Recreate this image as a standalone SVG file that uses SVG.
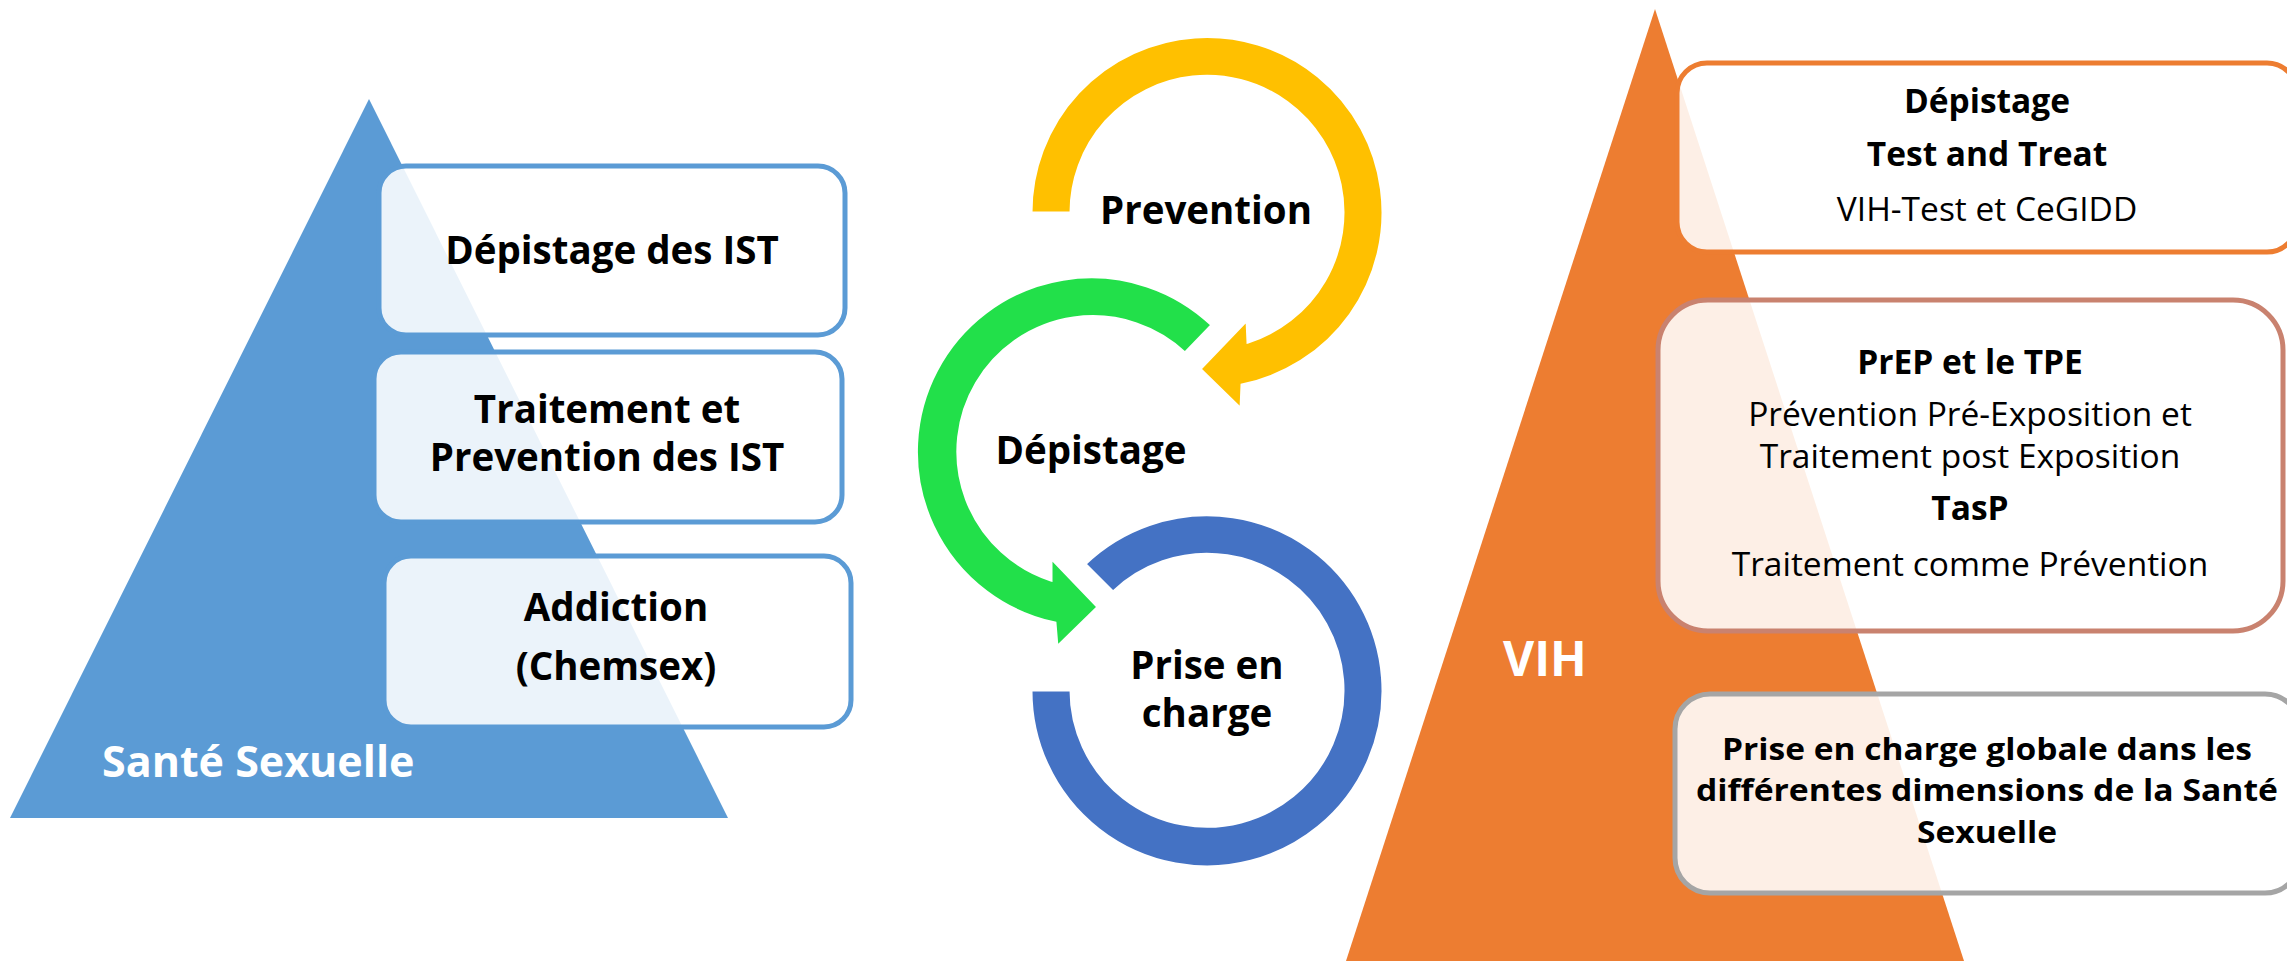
<svg xmlns="http://www.w3.org/2000/svg" width="2287" height="961" viewBox="0 0 2287 961">
<style>
.b{font-family:"Open Sans","Noto Sans","DejaVu Sans",sans-serif;font-weight:700;fill:#000;text-anchor:middle}
.r{font-family:"Open Sans","Noto Sans","DejaVu Sans",sans-serif;font-weight:400;fill:#000;text-anchor:middle}
.w{font-family:"Open Sans","Noto Sans","DejaVu Sans",sans-serif;font-weight:700;fill:#fff}
.lb{fill:#fff;fill-opacity:0.88;stroke:#5B9BD5;stroke-width:5}
.rb{fill:#fff;fill-opacity:0.88;stroke-width:5}
.arc{stroke:#fff;stroke-width:3;stroke-linejoin:miter}
.l{font-size:38.5px}
.m{font-size:38.5px}
.rt{font-size:33.5px}
.sm{font-size:30.5px}
</style>
<rect width="2287" height="961" fill="#fff"/>

<g id="sante-sexuelle">
<polygon points="369,99 10,818 728,818" fill="#5B9BD5"/>
<text class="w" x="102" y="777" font-size="43">Santé Sexuelle</text>
</g>

<g id="depistage-ist">
<rect class="lb" x="379" y="166" width="466" height="169" rx="27"/>
<text class="b l" x="612" y="264">Dépistage des IST</text>
</g>
<g id="traitement-ist">
<rect class="lb" x="374" y="352" width="468" height="170" rx="27"/>
<text class="b l" x="607" y="423">Traitement et</text>
<text class="b l" x="607" y="471">Prevention des IST</text>
</g>
<g id="addiction">
<rect class="lb" x="384" y="556" width="467" height="171" rx="27"/>
<text class="b l" x="616" y="621">Addiction</text>
<text class="b l" x="616" y="680">(Chemsex)</text>
</g>

<g id="connectors">
<path id="arrow-prevention" class="arc" fill="#FFC000" d="M 1031,213 A 176,176 0 1 1 1242,385 L 1241,409 L 1200,369 L 1247,320 L 1248,342 A 136,136 0 1 0 1071,213 Z"/>
<path id="arrow-depistage" class="arc" fill="#22E04A" d="M 1212,325 A 175,175 0 1 0 1055,623 L 1057,647 L 1098,607 L 1051,558 L 1051,580 A 135,135 0 1 1 1185,353 Z"/>
<path id="ring-prise" class="arc" fill="#4472C4" d="M 1031,690 A 176,176 0 1 0 1085,564 L 1113,592 A 136,136 0 1 1 1071,690 Z"/>
</g>

<g id="prevention"><text class="b m" x="1206" y="224">Prevention</text></g>
<g id="depistage"><text class="b m" x="1091" y="464">Dépistage</text></g>
<g id="prise-en-charge">
<text class="b m" x="1207" y="679">Prise en</text>
<text class="b m" x="1207" y="727">charge</text>
</g>

<g id="vih">
<polygon points="1655,9 1346,961 1964,961" fill="#ED7D31"/>
<text class="w" x="1503" y="676" font-size="48">VIH</text>
</g>

<g id="depistage-vih">
<rect class="rb" x="1677" y="63" width="620" height="189" rx="30" stroke="#ED7D31"/>
<text class="b rt" x="1987" y="113">Dépistage</text>
<text class="b rt" x="1987" y="166">Test and Treat</text>
<text class="r rt" x="1987" y="221">VIH-Test et CeGIDD</text>
</g>
<g id="prep-tpe">
<rect class="rb" x="1658" y="300" width="625" height="331" rx="50" stroke="#C9826F"/>
<text class="b rt" x="1970" y="374">PrEP et le TPE</text>
<text class="r rt" x="1970" y="426">Prévention Pré-Exposition et</text>
<text class="r rt" x="1970" y="468">Traitement post Exposition</text>
<text class="b rt" x="1970" y="520">TasP</text>
<text class="r rt" x="1970" y="576">Traitement comme Prévention</text>
</g>
<g id="prise-globale">
<rect class="rb" x="1675" y="694" width="625" height="199" rx="35" stroke="#A5A5A5"/>
<text class="b sm" x="1987" y="760" textLength="530" lengthAdjust="spacingAndGlyphs">Prise en charge globale dans les</text>
<text class="b sm" x="1987" y="801" textLength="582" lengthAdjust="spacingAndGlyphs">différentes dimensions de la Santé</text>
<text class="b sm" x="1987" y="843" textLength="140" lengthAdjust="spacingAndGlyphs">Sexuelle</text>
</g>
</svg>
